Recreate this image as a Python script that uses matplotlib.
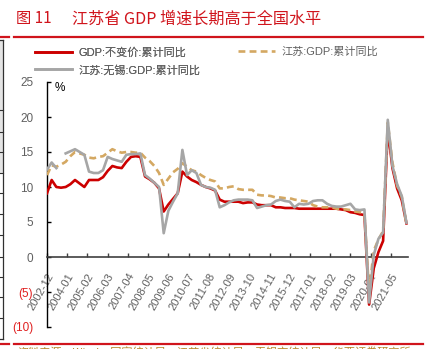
import matplotlib
matplotlib.use("Agg")
import matplotlib.pyplot as plt
from matplotlib.lines import Line2D
from matplotlib.patches import Rectangle
from matplotlib.transforms import ScaledTranslation
import numpy as np
import pandas as pd

plt.rcParams['font.family'] = ['Liberation Sans', 'Noto Sans CJK SC', 'DejaVu Sans']

# ---------------- data (quarterly, cumulative YoY %) ----------------
quarters = pd.period_range('2002Q4', '2022Q1', freq='Q')

china_gdp = [9.1,
             11.0, 10.0, 9.9, 10.0,
             10.4, 11.0, 10.5, 10.0,
             11.0, 11.0, 11.0, 11.4,
             12.3, 13.0, 12.8, 12.7,
             13.6, 14.3, 14.4, 14.3,
             11.5, 11.1, 10.6, 9.8,
             6.5, 7.5, 8.3, 9.1,
             12.2, 11.5, 11.0, 10.7,
             10.3, 10.0, 9.8, 9.5,
             8.2, 7.9, 7.9, 7.9,
             7.9, 7.7, 7.8, 7.8,
             7.5, 7.4, 7.4, 7.4,
             7.1, 7.1, 7.0, 7.0,
             7.0, 6.9, 6.9, 6.9,
             6.9, 6.9, 6.9, 6.9,
             6.9, 6.9, 6.8, 6.7,
             6.4, 6.3, 6.1, 6.0,
             -6.8, -1.6, 0.7, 2.3,
             18.3, 12.7, 9.8, 8.1,
             4.8]

jiangsu_gdp = [11.7,
               13.1, 12.9, 13.2, 13.6,
               14.4, 15.0, 14.8, 14.6,
               14.2, 14.1, 14.3, 14.4,
               14.9, 15.4, 15.1, 14.9,
               15.0, 15.0, 14.9, 14.9,
               14.2, 13.7, 13.0, 12.0,
               10.3, 11.2, 12.1, 12.6,
               13.4, 12.9, 12.4, 12.2,
               11.7, 11.3, 11.0, 10.8,
               9.8, 9.8, 10.0, 10.1,
               9.7, 9.6, 9.6, 9.6,
               8.9, 8.8, 8.8, 8.7,
               8.5, 8.5, 8.4, 8.4,
               8.2, 8.1, 8.0, 7.9,
               7.4, 7.2, 7.1, 7.1,
               7.1, 6.9, 6.8, 6.8,
               6.7, 6.5, 6.4, 6.2,
               -5.0, 0.9, 2.5, 3.7,
               19.2, 13.5, 10.2, 8.6,
               4.7]

wuxi_gdp = [12.5,
            13.5, 12.7, np.nan, 14.8,
            15.1, 15.4, 15.0, 14.6,
            12.2, 12.0, 12.0, 12.4,
            14.3, 14.0, 13.8, 13.6,
            14.6, 14.7, 14.7, 14.8,
            11.7, 11.2, 10.6, 10.0,
            3.4, 6.6, 7.9, 9.1,
            15.3, 11.7, 12.4, 12.0,
            10.3, 10.0, 9.9, 9.6,
            7.1, 7.4, 7.8, 8.1,
            8.2, 8.2, 8.2, 8.1,
            7.0, 7.2, 7.4, 7.5,
            8.0, 8.2, 8.0, 7.9,
            7.1, 7.6, 7.5, 7.6,
            8.0, 8.1, 8.1, 7.6,
            7.3, 7.2, 7.2, 7.4,
            7.6, 6.8, 6.7, 6.8,
            -6.5, 0.3, 2.6, 3.5,
            19.6, 13.0, 10.4, 8.7,
            4.9]

series_names = ['GDP:不变价:累计同比', '江苏:GDP:累计同比', '江苏:无锡:GDP:累计同比']
tick_labels = ['2002-12', '2004-01', '2005-02', '2006-03', '2007-04', '2008-05',
               '2009-06', '2010-07', '2011-08', '2012-09', '2013-10', '2014-11',
               '2015-12', '2017-01', '2018-02', '2019-03', '2020-04', '2021-05']
y_ticks = [-10, -5, 0, 5, 10, 15, 20, 25]
y_labels = ['(10)', '(5)', '0', '5', '10', '15', '20', '25']
title_fig = '图 11'
title_text = '江苏省 GDP 增速长期高于全国水平'

# ---------------- styling ----------------
RED = '#cc0000'
TAN = '#d4a862'
GRAY = '#a6a6a6'
TXT = '#606060'
TITLE_RED = '#d0141c'

W, H = 430, 349
fig = plt.figure(figsize=(W / 100, H / 100), dpi=100)

def fx(px):
    return px / W

def fy(py):
    return 1 - py / H

ax = fig.add_axes([fx(47), fy(327), fx(408) - fx(47), fy(82) - fy(327)])

# x as months since 2002-12
start = pd.Period('2002-12', freq='M')
xm = np.array([(q.asfreq('M', 'end') - start).n for q in quarters], dtype=float)

ax.plot(xm, china_gdp, color=RED, lw=1.9, label=series_names[0], zorder=3)
ax.plot(xm, jiangsu_gdp, color=TAN, lw=1.9, ls=(0, (2.6, 1.6)), label=series_names[1], zorder=4)
ax.plot(xm, wuxi_gdp, color=GRAY, lw=1.9, label=series_names[2], zorder=5)

ax.set_xlim(0, 232)
ax.set_ylim(-10, 25)

for s in ['top', 'right']:
    ax.spines[s].set_visible(False)
ax.spines['bottom'].set_position(('data', 0))
ax.spines['bottom'].set_color('#404040')
ax.spines['bottom'].set_linewidth(1.2)
ax.spines['left'].set_color('black')
ax.spines['left'].set_linewidth(1.0)
ax.set_facecolor('none')

ax.tick_params(axis='x', direction='in', length=3, width=1, color='#404040', pad=2,
               labelsize=8, labelcolor=TXT)
ax.tick_params(axis='y', direction='in', length=3, width=1, color='black', pad=10,
               labelsize=8.5)

tick_pos = [(pd.Period(t, freq='M') - start).n for t in tick_labels]
ax.set_xticks(tick_pos)
ax.set_xticklabels(tick_labels)
ax.set_yticks(y_ticks)
ax.set_yticklabels(y_labels)

ax.text(0.022, 1.0, '%', transform=ax.transAxes, ha='left', va='top', fontsize=8.5, color='black')

# ---------------- legend ----------------
h = {l.get_label(): l for l in ax.get_lines()}
leg1 = fig.legend([h[series_names[0]], h[series_names[2]]], [series_names[0], series_names[2]],
                  loc='upper left', bbox_to_anchor=(fx(35), fy(47)), frameon=False,
                  fontsize=8, handlelength=3.3, handletextpad=0.6, labelspacing=0.65,
                  borderpad=0, borderaxespad=0, labelcolor=TXT)
leg2 = fig.legend([h[series_names[1]]], [series_names[1]],
                  loc='upper left', bbox_to_anchor=(fx(238), fy(47)), frameon=False,
                  fontsize=8, handlelength=3.3, handletextpad=0.6,
                  borderpad=0, borderaxespad=0, labelcolor=TXT)
fig.add_artist(leg1)

# ---------------- title and page decorations ----------------
fig.text(fx(16), fy(19), title_fig, color=TITLE_RED, fontsize=11, ha='left', va='center',
         family=['Noto Sans CJK SC', 'DejaVu Sans'])
fig.text(fx(72), fy(19), title_text, color=TITLE_RED, fontsize=11.6, ha='left', va='center',
         family=['Noto Sans CJK SC', 'DejaVu Sans'])
for yy in (37, 344):
    fig.add_artist(Line2D([fx(14), fx(423)], [fy(yy), fy(yy)], color=TITLE_RED, lw=1.6))
    fig.add_artist(Line2D([fx(0), fx(9)], [fy(yy), fy(yy)], color=TITLE_RED, lw=1.6))

# neighbouring page fragment at the left edge
fig.add_artist(Rectangle((fx(-2), fy(173)), fx(5), fy(40) - fy(173), facecolor='#e4e4e4',
                         edgecolor='none', transform=fig.transFigure))
fig.add_artist(Line2D([fx(3), fx(3)], [fy(40), fy(339)], color='#303030', lw=0.9))
fig.add_artist(Line2D([fx(0), fx(3)], [fy(40), fy(40)], color='#303030', lw=0.9))
fig.add_artist(Line2D([fx(0), fx(3)], [fy(339), fy(339)], color='#303030', lw=0.9))
for yy in [110, 131.7, 151.7, 173.3, 193.3, 214.3, 235, 256.7, 277.3, 297.3, 318.3]:
    fig.add_artist(Line2D([fx(0), fx(3)], [fy(yy), fy(yy)], color='#303030', lw=0.8))

fig.text(fx(17), fy(348), '资料来源：Wind，国家统计局，江苏省统计局，无锡市统计局，华西证券研究所',
         color='#b8862b', fontsize=8, ha='left', va='top',
         family=['Noto Sans CJK SC', 'DejaVu Sans'])

# final label styling (after ticks are set)
off = ScaledTranslation(4 / 100, -14 / 100, fig.dpi_scale_trans)
for lab in ax.get_xticklabels():
    lab.set_rotation(60)
    lab.set_ha('right')
    lab.set_va('center')
    lab.set_rotation_mode('anchor')
    lab.set_transform(lab.get_transform() + off)
for lab, v in zip(ax.get_yticklabels(), y_ticks):
    lab.set_color('#e02020' if v < 0 else TXT)

fig.savefig('out.png', dpi=100)
